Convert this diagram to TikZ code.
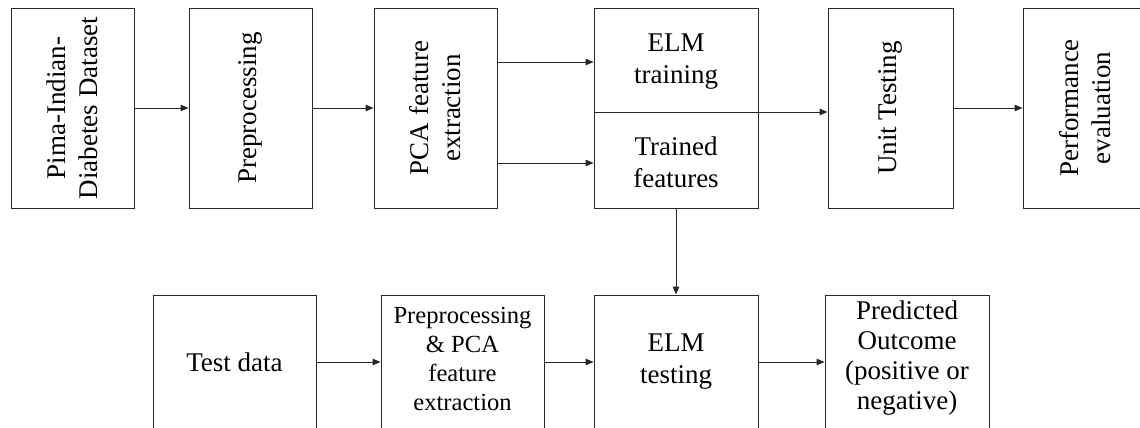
\documentclass[tikz,border=0pt]{standalone}
\usepackage{fontspec}
\setmainfont{Liberation Serif}
\usetikzlibrary{arrows.meta}
\begin{document}
\begin{tikzpicture}[x=1pt,y=-1pt,
  box/.style={draw=black!85,line width=0.9pt,rectangle,inner sep=0pt},
  tbox/.style={box,minimum width=123pt,minimum height=200pt},
  bbox/.style={box,minimum width=163pt,minimum height=134pt},
  txt/.style={align=center,font=\fontsize{27}{32}\selectfont,inner sep=0pt},
  vtxt/.style={txt,rotate=90},
  arr/.style={line width=0.9pt,draw=black!85,-{Triangle[length=8pt,width=6.5pt]}}]
\useasboundingbox (0,0) rectangle (1140,428);
\clip (0,0) rectangle (1140,428);
% top row
\node[tbox] (ds) at (72.5,108) {};
\node[vtxt] (dst) at (ds.center) {Pima-Indian-\\Diabetes Dataset};
\node[tbox] (pre) at (250.5,108) {};
\node[vtxt] (pret) at (pre.center) {Preprocessing};
\node[tbox] (pca) at (435.5,108) {};
\node[vtxt] (pcat) at (pca.center) {PCA feature\\extraction};
\node[box,minimum width=164pt,minimum height=200pt] (elm) at (676,108) {};
\node[txt] (elmt) at (676,62) {ELM\\training};
\node[txt] (tf) at (676,162) {Trained\\features};
\node[box,minimum width=125pt,minimum height=200pt] (unit) at (890.5,108) {};
\node[vtxt] (unitt) at (unit.center) {Unit Testing};
\node[box,minimum width=125pt,minimum height=200pt] (perf) at (1085.5,108) {};
\node[vtxt] (perft) at (perf.center) {Performance\\evaluation};
% bottom row
\node[bbox] (test) at (234.5,362) {};
\node[txt] (testt) at (test.center) {Test data};
\node[bbox] (ppca) at (462.5,362) {};
\node[txt,font=\fontsize{24.6}{29}\selectfont] (ppcat) at ([yshift=3pt]ppca.center) {Preprocessing\\\& PCA\\feature\\extraction};
\node[box,minimum width=164pt,minimum height=134pt] (elmtest) at (676,362) {};
\node[txt] (elmtestt) at (elmtest.center) {ELM\\testing};
\node[box,minimum width=164pt,minimum height=134pt] (pred) at (907,362) {};
\node[txt,font=\fontsize{27}{30}\selectfont] (predt) at ([yshift=4pt]pred.center) {Predicted\\Outcome\\(positive or\\negative)};
% connectors
\draw[arr] (ds.east) -- (pre.west);
\draw[arr] (pre.east) -- (pca.west);
\draw[arr] (pca.east |- 0,62) -- (elm.west |- 0,62);
\draw[arr] (pca.east |- 0,163) -- (elm.west |- 0,163);
\draw[arr] (elm.west |- 0,112) -- (unit.west |- 0,112);
\draw[arr] (unit.east) -- (perf.west);
\draw[arr] (elm.south) -- (elmtest.north);
\draw[arr] (test.east) -- (ppca.west);
\draw[arr] (ppca.east) -- (elmtest.west);
\draw[arr] (elmtest.east) -- (pred.west);
\end{tikzpicture}
\end{document}
